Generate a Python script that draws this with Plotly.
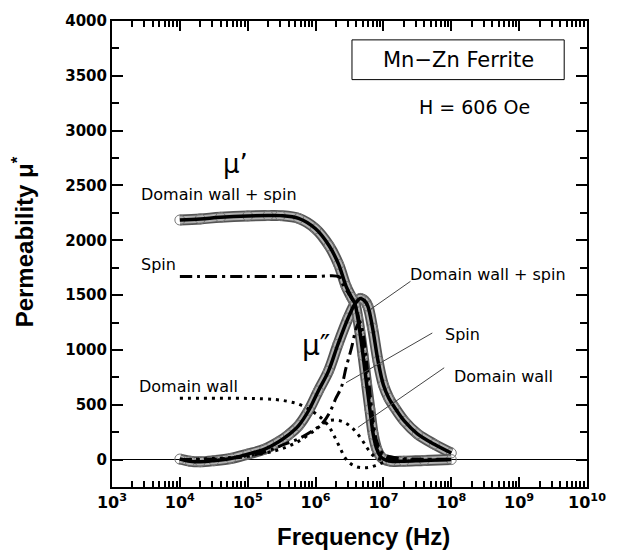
import numpy as np
import plotly.graph_objects as go

# values; frequency kept as log10(Hz)

# mu' total (domain wall + spin), measured + fit
lf_mu1 = [4.0, 4.3, 4.6, 5.0, 5.3, 5.48, 5.75, 6.0, 6.2, 6.34, 6.45, 6.53, 6.58,
          6.62, 6.65, 6.7, 6.75, 6.8, 6.85, 6.9, 6.95, 7.0, 7.11, 7.3, 7.6, 8.0]
mu1 = [2185, 2195, 2210, 2222, 2226, 2225, 2200, 2105, 1950, 1780, 1580, 1480, 1420,
       1300, 1180, 950, 700, 460, 230, 100, 35, 5, -15, -15, -8, 0]

# mu'' total (domain wall + spin), measured + fit
lf_mu2 = [4.0, 4.15, 4.3, 4.5, 4.75, 5.0, 5.25, 5.45, 5.6, 5.75, 5.9, 6.04, 6.19,
          6.33, 6.48, 6.58, 6.66, 6.72, 6.77, 6.84, 6.92, 7.0, 7.08, 7.16, 7.31,
          7.5, 7.75, 8.0]
mu2 = [5, -15, -20, -10, 10, 50, 95, 160, 225, 310, 450, 626, 807,
       1052, 1291, 1420, 1470, 1450, 1400, 1200, 900, 680, 560, 480, 350,
       235, 140, 60]

# spin component
lf_spin1 = [4.0, 5.0, 6.0, 6.35, 6.4, 6.5, 6.6, 6.65, 6.7, 6.75, 6.8, 6.85, 6.9, 7.0, 7.2, 8.0]
spin1 = [1670, 1670, 1670, 1665, 1600, 1500, 1380, 1230, 1000, 760, 520, 280, 130, 30, 5, 0]
lf_spin2 = [4.0, 4.5, 5.0, 5.3, 5.5, 5.75, 5.95, 6.1, 6.2, 6.3, 6.38, 6.45, 6.53,
            6.6, 6.65, 6.7, 6.75, 6.8, 6.85, 6.9, 7.0, 7.2, 7.5, 8.0]
spin2 = [0, 5, 30, 80, 130, 190, 260, 330, 420, 560, 660, 840, 1020,
         1200, 1260, 1150, 900, 620, 350, 170, 50, 15, 5, 2]

# domain wall component
lf_dw1 = [4.0, 5.0, 5.4, 5.6, 5.75, 5.9, 6.0, 6.1, 6.2, 6.27, 6.35, 6.43, 6.5,
          6.6, 6.7, 6.8, 6.9, 7.0, 7.1, 7.3]
dw1 = [560, 558, 548, 530, 505, 460, 420, 370, 300, 220, 120, 20, -30,
       -65, -75, -70, -50, -25, -10, -5]
lf_dw2 = [4.0, 4.5, 5.0, 5.4, 5.7, 5.95, 6.1, 6.2, 6.3, 6.4, 6.5, 6.6, 6.7,
          6.75, 6.82, 6.9, 7.0]
dw2 = [0, 10, 35, 80, 150, 250, 320, 355, 360, 345, 310, 250, 165,
       115, 55, 15, 0]

decades = [3, 4, 5, 6, 7, 8, 9, 10]
y_ticks = [0, 500, 1000, 1500, 2000, 2500, 3000, 3500, 4000]
y_minor = [-250, 250, 750, 1250, 1750, 2250, 2750, 3250, 3750]
x_minor = [k * 10.0 ** d for d in decades[:-1] for k in range(2, 10)]

FONT = "DejaVu Sans"

# plot area in pixels (inside a 618x554 page)
L, R, T, B = 112, 591, 18, 487


def px(x, y):
    """pixel position -> paper coords"""
    return (x - L) / (R - L), (B - y) / (B - T)


def hz(lf):
    return np.power(10.0, lf)


fig = go.Figure()

# measured bands (open circles, drawn as thick gray strokes)
for lf, v in [(lf_mu2, mu2), (lf_mu1, mu1)]:
    fig.add_trace(go.Scatter(x=hz(lf), y=v, mode="lines", line_shape="spline",
                             line=dict(color="#555555", width=11), hoverinfo="skip"))
    fig.add_trace(go.Scatter(x=hz(lf), y=v, mode="lines", line_shape="spline",
                             line=dict(color="#b0b0b0", width=7.5), hoverinfo="skip"))
    fig.add_trace(go.Scatter(x=hz(lf), y=v, mode="markers",
                             marker=dict(symbol="circle-open", size=10, color="#777777",
                                         line=dict(width=1)), hoverinfo="skip"))

# components
fig.add_trace(go.Scatter(x=hz(lf_spin1), y=spin1, mode="lines", line_shape="spline",
                         line=dict(color="black", width=3, dash="12px,5px,3px,5px")))
fig.add_trace(go.Scatter(x=hz(lf_spin2), y=spin2, mode="lines", line_shape="spline",
                         line=dict(color="black", width=3, dash="12px,5px,3px,5px")))
fig.add_trace(go.Scatter(x=hz(lf_dw1), y=dw1, mode="lines", line_shape="spline",
                         line=dict(color="black", width=3, dash="3px,5px")))
fig.add_trace(go.Scatter(x=hz(lf_dw2), y=dw2, mode="lines", line_shape="spline",
                         line=dict(color="black", width=3, dash="3px,5px")))

# fitted totals
for lf, v in [(lf_mu2, mu2), (lf_mu1, mu1)]:
    fig.add_trace(go.Scatter(x=hz(lf), y=v, mode="lines", line_shape="spline",
                             line=dict(color="black", width=3.5)))

fig.update_layout(
    xaxis=dict(type="log", range=[3, 10],
               tickmode="array",
               tickvals=[10.0 ** d for d in decades],
               ticktext=[f"<b>10<sup>{d}</sup></b>" for d in decades],
               showline=True, linewidth=2, linecolor="black", mirror="ticks",
               ticks="inside", ticklen=10, tickwidth=2, tickcolor="black",
               minor=dict(tickmode="array", tickvals=x_minor, ticks="inside",
                          ticklen=6, tickwidth=1.5, tickcolor="black", showgrid=False),
               tickfont=dict(family=FONT, size=16, color="black"),
               showgrid=False, zeroline=False),
    yaxis=dict(range=[-250, 4000],
               tickmode="array", tickvals=y_ticks,
               ticktext=[f"<b>{v}</b>" for v in y_ticks],
               showline=True, linewidth=2, linecolor="black", mirror="ticks",
               ticks="inside", ticklen=11, tickwidth=2, tickcolor="black",
               minor=dict(tickmode="array", tickvals=y_minor, ticks="inside",
                          ticklen=7, tickwidth=1.5, tickcolor="black", showgrid=False),
               tickfont=dict(family=FONT, size=15, color="black"),
               showgrid=False,
               zeroline=True, zerolinecolor="black", zerolinewidth=1),
)

annotations = []


def label(x, y, text, size, bold=False, family=FONT):
    xp, yp = px(x, y)
    if bold:
        text = f"<b>{text}</b>"
    annotations.append(dict(x=xp, y=yp, xref="paper", yref="paper", text=text,
                            showarrow=False, xanchor="center", yanchor="middle",
                            font=dict(family=family, size=size, color="black")))


label(237, 162, "μ’", 26)
label(220, 193, "Domain wall + spin", 16)
label(159, 263, "Spin", 16)
label(189, 386, "Domain wall", 16)
label(318, 345, "μ″", 28)
label(491, 273, "Domain wall + spin", 16)
label(465, 334, "Spin", 16)
label(507, 376, "Domain wall", 16)
label(461, 57, "Mn−Zn Ferrite", 21)
label(478, 105, "H = 606 Oe", 19)
label(366, 537, "Frequency (Hz)", 24, bold=True, family="Liberation Sans")

xp, yp = px(22, 240)
annotations.append(dict(x=xp, y=yp, xref="paper", yref="paper",
                        text="<b>Permeability μ<sup>*</sup></b>", textangle=-90,
                        showarrow=False, xanchor="center", yanchor="middle",
                        font=dict(family="Liberation Sans", size=24, color="black")))

shapes = []
x0, y0 = px(354, 77)
x1, y1 = px(568, 37)
shapes.append(dict(type="rect", xref="paper", yref="paper", x0=x0, y0=y0, x1=x1, y1=y1,
                   line=dict(color="black", width=1)))
for (a, b), (c, d) in [((373, 308), (413, 280)), ((348, 382), (435, 332)),
                       ((360, 427), (447, 367))]:
    xa, ya = px(a, b)
    xc, yc = px(c, d)
    shapes.append(dict(type="line", xref="paper", yref="paper", x0=xa, y0=ya, x1=xc, y1=yc,
                       line=dict(color="#444444", width=1)))

fig.update_layout(width=618, height=554, showlegend=False,
                  margin=dict(l=L, r=618 - R, t=T, b=554 - B),
                  plot_bgcolor="white", paper_bgcolor="white",
                  annotations=annotations, shapes=shapes)

# page body has a default 8px margin; drop it so the figure sits at 0,0
fig.write_html("out.html", config={"displayModeBar": False},
               post_script="document.body.style.margin='0px';")
